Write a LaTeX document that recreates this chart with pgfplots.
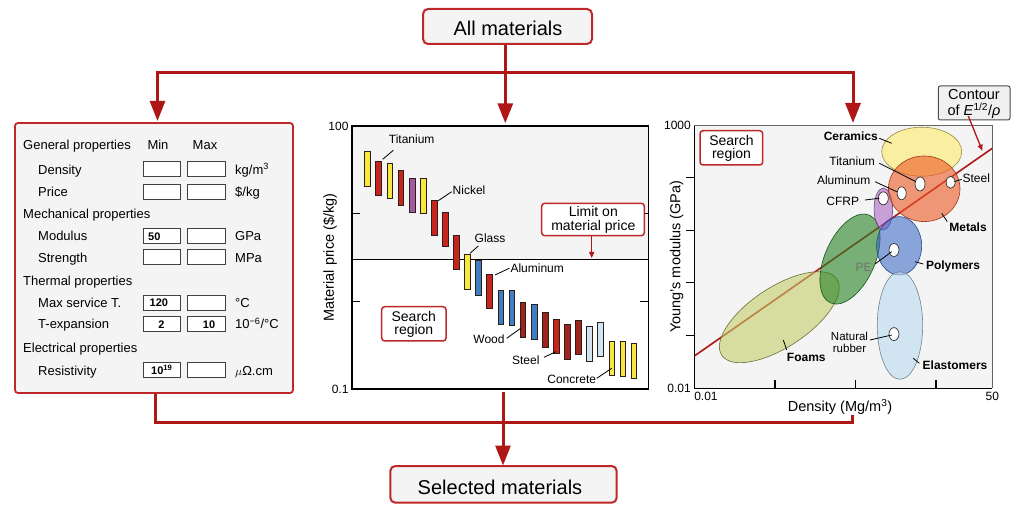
\documentclass[border=0pt]{standalone}
\usepackage{pgfplots}
\pgfplotsset{compat=1.18}
\usepackage{fontspec}
\setmainfont{Liberation Sans}
\usetikzlibrary{arrows.meta}

\definecolor{flow}{RGB}{175,22,22}
\definecolor{boxred}{RGB}{190,40,40}
\definecolor{bgg}{RGB}{244,244,244}
\definecolor{cyel}{RGB}{247,232,64}
\definecolor{cred}{RGB}{200,36,30}
\definecolor{cdred}{RGB}{160,36,30}
\definecolor{cpur}{RGB}{160,90,160}
\definecolor{cblu}{RGB}{62,126,196}
\definecolor{clbl}{RGB}{208,228,242}
\definecolor{bardraw}{RGB}{45,30,25}
\definecolor{eCer}{RGB}{254,234,104}
\definecolor{eMet}{RGB}{237,88,37}
\definecolor{eCfrp}{RGB}{171,104,196}
\definecolor{ePol}{RGB}{50,100,195}
\definecolor{eEla}{RGB}{187,218,241}
\definecolor{eGrn}{RGB}{37,129,37}
\definecolor{eFoam}{RGB}{196,204,104}

\newcommand\fA{\fontsize{20}{22}\selectfont}
\newcommand\fB{\fontsize{13}{15}\selectfont}
\newcommand\fV{\bfseries\fontsize{11}{12}\selectfont}
\newcommand\fC{\fontsize{12}{13}\selectfont}
\newcommand\fCt{\fontsize{11.5}{12}\selectfont}
\newcommand\fCb{\bfseries\fontsize{12}{13}\selectfont}
\newcommand\fD{\fontsize{14.5}{16}\selectfont}
\newcommand\fE{\fontsize{14.5}{16}\selectfont}
\newcommand\fEt{\fontsize{14}{13.6}\selectfont}

\pgfdeclareplotmark{ell}{%
  \pgfscope
  \pgftransformrotate{\ang}%
  \pgfpathellipse{\pgfpointorigin}{\pgfpoint{\rx pt}{0pt}}{\pgfpoint{0pt}{\ry pt}}%
  \pgfusepath{fill,stroke}%
  \endpgfscope}

\pgfplotsset{ellp/.style={only marks, mark=ell,
  visualization depends on={\thisrow{rx} \as \rx},
  visualization depends on={\thisrow{ry} \as \ry},
  visualization depends on={\thisrow{a} \as \ang}}}

\newcommand{\fbar}[5]{\addplot[fill=#5, draw=bardraw, line width=0.6pt] coordinates {(#1,#3) (#1,#4) (#2,#4) (#2,#3)} -- cycle;}
\newcommand{\formboxes}[1]{%
  \draw[fill=white, draw=black!75, line width=0.9pt] (143,{#1-12.7}) rectangle (180,{#1+2.3});
  \draw[fill=white, draw=black!75, line width=0.9pt] (187,{#1-12.7}) rectangle (225,{#1+2.3});}

\begin{document}
\begin{tikzpicture}[x=1pt,y=1pt]
\useasboundingbox (0,0) rectangle (1024,506);

% ---------------- middle chart ----------------
\begin{axis}[
  at={(352pt,117pt)}, anchor=south west, scale only axis,
  width=296.3pt, height=263pt,
  ymode=log, xmin=-0.4, xmax=26.3, ymin=0.1, ymax=100,
  xtick=\empty, ytick={0.1,1,10,100}, yticklabels={0.1,,,100},
  minor ytick={}, minor tick length=0pt,
  ytick align=inside, major tick length=8pt,
  tick style={line width=1.2pt, black},
  minor tick style={draw=none},
  axis line style={line width=1.2pt, black},
  tick label style={font=\fC},
  /pgf/number format/assume math mode=true,
  axis on top,
  ylabel={Material price (\$/kg)},
  every axis y label/.style={at={(axis description cs:-0.074,0.5)}, anchor=center, rotate=90, font=\fD},
]
\addplot[fill=bgg, draw=none] coordinates {(-0.4,3) (26.3,3) (26.3,100) (-0.4,100)} -- cycle;
\addplot[black, line width=0.8pt] coordinates {(-0.4,3) (26.3,3)};
\fbar{0.74}{1.26}{20.7}{51.0}{cyel}
\fbar{1.74}{2.26}{16.0}{40.0}{cred}
\fbar{2.74}{3.26}{15.0}{37.6}{cyel}
\fbar{3.74}{4.26}{12.4}{31.0}{cred}
\fbar{4.74}{5.26}{10.3}{25.6}{cpur}
\fbar{5.74}{6.26}{10.0}{25.1}{cyel}
\fbar{6.74}{7.26}{5.69}{14.2}{cred}
\fbar{7.74}{8.26}{4.19}{10.4}{cred}
\fbar{8.74}{9.26}{2.29}{5.69}{cred}
\fbar{9.74}{10.26}{1.37}{3.42}{cyel}
\fbar{10.74}{11.26}{1.18}{2.90}{cblu}
\fbar{11.74}{12.26}{0.822}{2.06}{cred}
\fbar{12.74}{13.26}{0.551}{1.34}{cblu}
\fbar{13.74}{14.26}{0.531}{1.32}{cblu}
\fbar{14.74}{15.26}{0.388}{0.965}{cdred}
\fbar{15.74}{16.26}{0.368}{0.914}{cblu}
\fbar{16.74}{17.26}{0.302}{0.753}{cdred}
\fbar{17.74}{18.26}{0.253}{0.628}{cred}
\fbar{18.74}{19.26}{0.220}{0.541}{cdred}
\fbar{19.74}{20.26}{0.248}{0.611}{cdred}
\fbar{20.74}{21.26}{0.208}{0.513}{clbl}
\fbar{21.74}{22.26}{0.233}{0.579}{clbl}
\fbar{22.74}{23.26}{0.143}{0.352}{cyel}
\fbar{23.74}{24.26}{0.139}{0.346}{cyel}
\fbar{24.74}{25.26}{0.133}{0.334}{cyel}
\end{axis}

% ---------------- right chart ----------------
\begin{axis}[
  at={(694.3pt,117.7pt)}, anchor=south west, scale only axis,
  width=298pt, height=263.3pt,
  xmode=log, ymode=log, xmin=0.01, xmax=50, ymin=0.01, ymax=1000,
  axis background/.style={fill=bgg},
  axis lines*=left, axis line style={line width=1.5pt, black},
  xtick pos=bottom, ytick pos=left,
  xtick={0.1,1,10}, xticklabels={,,},
  ytick={0.1,1,10,100}, yticklabels={,,,},
  minor xtick={}, minor ytick={}, minor tick length=0pt,
  minor tick style={draw=none},
  extra x ticks={0.01,50}, extra x tick labels={\makebox[0pt][l]{0.01},50},
  extra y ticks={0.01,1000}, extra y tick labels={0.01,1000},
  extra x tick style={major tick length=0pt},
  extra y tick style={major tick length=0pt},
  xtick align=inside, ytick align=outside, major tick length=8pt,
  x tick style={line width=1.8pt, black},
  y tick style={line width=1pt, black},
  tick label style={font=\fC},
  /pgf/number format/assume math mode=true,
  ylabel={Young's modulus (GPa)},
  xlabel={Density (Mg/m\textsuperscript{3})},
  every axis y label/.style={at={(axis description cs:-0.059,0.5)}, anchor=center, rotate=90, font=\fD},
  every axis x label/.style={at={(axis description cs:0.489,-0.07)}, anchor=center, font=\fD},
  after end axis/.code={\draw[black!60, line width=0.8pt] (rel axis cs:0,1) -- (rel axis cs:1,1) -- (rel axis cs:1,0);},
]
\addplot[ellp, mark options={fill=eFoam, fill opacity=0.6, draw=black!45!eFoam, line width=0.6pt}] table[row sep=\\] {x y rx ry a\\ 0.1135 0.224 69 30 33.4\\};
\addplot[ellp, mark options={fill=eGrn, fill opacity=0.6, draw=black!35!eGrn, line width=0.6pt}] table[row sep=\\] {x y rx ry a\\ 0.856 2.85 48 25 66\\};
\addplot[ellp, mark options={fill=eCfrp, fill opacity=0.6, draw=black!35!eCfrp, line width=0.6pt}] table[row sep=\\] {x y rx ry a\\ 2.22 25.4 9.3 21 0\\};
\addplot[ellp, mark options={fill=ePol, fill opacity=0.55, draw=black!30!ePol, line width=0.6pt}] table[row sep=\\] {x y rx ry a\\ 3.49 5.08 22.5 29.2 0\\};
\addplot[ellp, mark options={fill=eEla, fill opacity=0.6, draw=black!40!eEla, line width=0.6pt}] table[row sep=\\] {x y rx ry a\\ 3.57 0.156 22.7 53.8 0\\};
\addplot[ellp, mark options={fill=eCer, fill opacity=0.6, draw=black!40!eCer, line width=0.6pt}] table[row sep=\\] {x y rx ry a\\ 6.65 311 40 24.5 0\\};
\addplot[ellp, mark options={fill=eMet, fill opacity=0.6, draw=black!35!eMet, line width=0.6pt}] table[row sep=\\] {x y rx ry a\\ 7.14 61.5 35.8 32.8 0\\};
\addplot[flow, line width=1.6pt] coordinates {(0.01,0.041) (50,361)};
\addplot[ellp, mark options={fill=white, draw=black!80, line width=0.7pt}] table[row sep=\\] {x y rx ry a\\
6.34 75.9 5 7 0\\
3.75 50.5 4.5 6.5 0\\
15.2 81.7 4.5 6 0\\
2.22 40.5 5 6.5 0\\
3.01 4.23 5 6.5 0\\
3.01 0.107 5 6.5 0\\};
\end{axis}

% ---------------- pixel-coordinate annotations ----------------
\begin{scope}[shift={(0pt,506pt)}, y=-1pt]
\tikzset{flowline/.style={flow, line width=3pt},
         ar/.style={-{Triangle[length=20pt,width=15pt]}},
         lead/.style={black, line width=0.8pt},
         t/.style={inner sep=0pt, anchor=base}}
% flow
\draw[flowline, {Triangle[length=20pt,width=15pt]}-{Triangle[length=20pt,width=15pt]}] (157.5,121) -- (157.5,72.7) -- (853,72.7) -- (853,123);
\draw[flowline, ar] (505.3,44) -- (505.3,123.3);
\draw[flowline] (155,393) -- (155,422.7) -- (852,422.7) -- (852,415);
\draw[flowline, ar] (503,392) -- (503,465.5);
% title boxes
\draw[boxred, line width=2pt, fill=bgg, rounded corners=5pt] (423,9) rectangle (592,44);
\node[t, font=\fA] at (508,36) {All materials};
\draw[boxred, line width=2pt, fill=bgg, rounded corners=5pt] (390.3,466) rectangle (616.7,502.7);
\node[t, font=\fA] at (500,494) {Selected materials};

% form
\draw[boxred, line width=1.8pt, fill=bgg, rounded corners=3pt] (15,123) rectangle (293,393);
\begin{scope}[every node/.style={inner sep=0pt, anchor=base west, font=\fB}]
\node at (23,150) {General properties};
\node at (23,218.3) {Mechanical properties};
\node at (23,285.7) {Thermal properties};
\node at (23,352.7) {Electrical properties};
\node at (38,174.3) {Density};
\node at (38,196.7) {Price};
\node at (38,241) {Modulus};
\node at (38,262.3) {Strength};
\node at (38,307.7) {Max service T.};
\node at (38,329) {T-expansion};
\node at (38,375) {Resistivity};
\node[anchor=base] at (158,150) {Min};
\node[anchor=base] at (205,150) {Max};
\node at (235,174.3) {kg/m\textsuperscript{3}};
\node at (235,196.7) {\$/kg};
\node at (235,241) {GPa};
\node at (235,262.3) {MPa};
\node at (235,307.7) {°C};
\node at (235,329) {10\textsuperscript{−6}/°C};
\node at (235,375) {$\mu$Ω.cm};
\end{scope}
\formboxes{174.3}
\formboxes{196.7}
\formboxes{241}
\formboxes{262.3}
\formboxes{307.7}
\formboxes{329}
\formboxes{375}
\node[inner sep=0pt, anchor=base west, font=\fV] at (148,240.3) {50};
\node[inner sep=0pt, anchor=base west, font=\fV] at (149.5,307) {120};
\node[inner sep=0pt, anchor=base, font=\fV] at (161.5,328.3) {2};
\node[inner sep=0pt, anchor=base, font=\fV] at (209,328.3) {10};
\node[inner sep=0pt, anchor=base west, font=\fV] at (151,374.3) {10\textsuperscript{19}};

% middle chart labels
\node[t, font=\fC] at (411.7,143.6) {Titanium};
\draw[lead] (382.7,159.3) -- (393.3,150.3);
\node[t, font=\fC] at (469,194.3) {Nickel};
\draw[lead] (438.3,200.7) -- (451.7,191.7);
\node[t, font=\fC] at (490,242.6) {Glass};
\draw[lead] (470,253.3) -- (478.3,246);
\node[t, font=\fC] at (537.2,272.6) {Aluminum};
\draw[lead] (495,275) -- (509.3,268.3);
\node[t, font=\fC] at (489,343.6) {Wood};
\draw[lead] (506.7,338.3) -- (520.7,328.3);
\node[t, font=\fC] at (525.8,364.3) {Steel};
\draw[lead] (544,357.3) -- (556,351.7);
\node[t, font=\fC] at (571.7,383.6) {Concrete};
\draw[lead] (596.7,378.3) -- (611.7,368.3);
% limit box
\draw[boxred, line width=1.5pt, fill=white, rounded corners=3pt] (541.7,203.3) rectangle (644.3,235.7);
\node[inner sep=0pt, align=center, font=\fEt, anchor=center] at (593.3,219.8) {Limit on\\material price};
\draw[flow, line width=1.3pt, -{Triangle[length=6pt,width=5pt]}] (591.7,236) -- (591.7,258);
% search region middle
\draw[boxred, line width=1.5pt, fill=white, rounded corners=3pt] (381.7,306.7) rectangle (446,341);
\node[inner sep=0pt, align=center, font=\fEt, anchor=center] at (413.8,324.2) {Search\\region};

% right chart labels
\draw[boxred, line width=1.5pt, fill=white, rounded corners=3pt] (700,130.7) rectangle (762.7,165);
\node[inner sep=0pt, align=center, font=\fEt, anchor=center] at (731.5,148.2) {Search\\region};
\draw[black!70, line width=1pt, fill=black!6, rounded corners=2pt] (938.3,86) rectangle (1010,120);
\node[t, font=\fE] at (974,100) {Contour};
\node[t, font=\fE] at (974,116) {of \textit{E}\textsuperscript{1/2}/\textit{ρ}};
\draw[flow, line width=1.3pt, -{Triangle[length=6pt,width=5pt]}] (968.3,116) -- (982.3,150.7);

\node[t, font=\fCb] at (850.8,140.3) {Ceramics};
\draw[lead] (879.3,138.3) -- (891.7,143.3);
\node[t, font=\fC] at (852.2,166) {Titanium};
\draw[lead] (879.3,163.3) -- (916,181.7);
\node[t, font=\fC] at (843.7,184.3) {Aluminum};
\draw[lead] (875,181.7) -- (896.7,191.7);
\node[t, font=\fC] at (842.8,206) {CFRP};
\draw[lead] (865,200) -- (879.3,198.3);
\node[t, font=\fC] at (976.3,183) {Steel};
\draw[lead] (954.3,181.7) -- (961.7,179.3);
\node[t, font=\fCb] at (968,231.6) {Metals};
\draw[lead] (941.7,213.3) -- (947.3,221.7);
\node[t, font=\fCb] at (953,269.3) {Polymers};
\draw[lead] (915,261.7) -- (923.3,264);
\node[t, font=\fC, text=black!55] at (863.7,271.6) {PE};
\draw[lead] (875,264) -- (891.7,251.7);
\node[inner sep=0pt, align=center, font=\fCt, anchor=center] at (849.5,342) {Natural\\rubber};
\draw[lead] (870,340) -- (891.7,335);
\node[t, font=\fCb] at (806.3,361) {Foams};
\draw[lead] (783.3,340) -- (786.7,350);
\node[t, font=\fCb] at (955,370) {Elastomers};
\draw[lead] (913.3,358.3) -- (919.3,363.3);
\end{scope}
\end{tikzpicture}
\end{document}
